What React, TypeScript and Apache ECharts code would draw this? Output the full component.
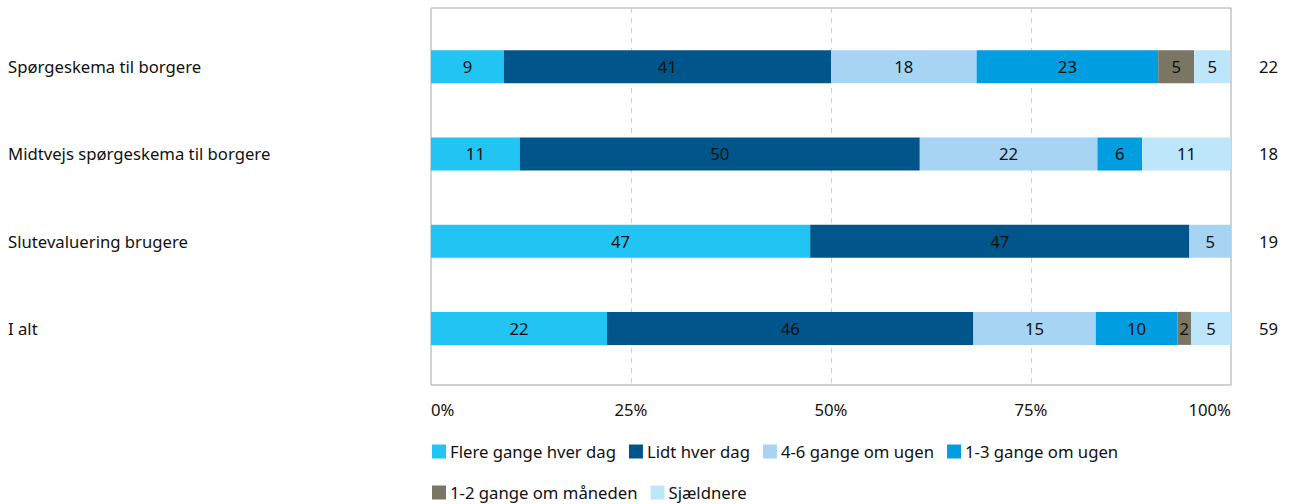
import React, { useEffect, useRef } from "react";
import * as echarts from "echarts";

const categories = [
  "Spørgeskema til borgere",
  "Midtvejs spørgeskema til borgere",
  "Slutevaluering brugere",
  "I alt",
];
const nLabels = ["22", "18", "19", "59"];
const seriesNames = [
  "Flere gange hver dag",
  "Lidt hver dag",
  "4-6 gange om ugen",
  "1-3 gange om ugen",
  "1-2 gange om måneden",
  "Sjældnere",
];
const colors = ["#21C4F3", "#00558A", "#A8D4F4", "#009EE0", "#7A7663", "#BEE6FA"];
// percentages per category, per series
const flere = [9.1, 11.1, 47.4, 22.0];
const lidt = [40.9, 50.0, 47.4, 45.8];
const g46 = [18.2, 22.2, 5.3, 15.3];
const g13 = [22.7, 5.6, 0, 10.2];
const g12 = [4.5, 0, 0, 1.7];
const sjaeldnere = [4.5, 11.1, 0, 5.1];
const seriesValues = [flere, lidt, g46, g13, g12, sjaeldnere];
const xTicks = ["0%", "25%", "50%", "75%", "100%"];

const FONT = "Noto Sans";

export default function App() {
  const ref = useRef<HTMLDivElement>(null);
  useEffect(() => {
    const chart = echarts.init(ref.current!, null, { renderer: "svg" });
    const textStyle = { fontFamily: FONT, fontSize: 16.7, color: "#111" };
    chart.setOption({
      animation: false,
      textStyle: { fontFamily: FONT },
      grid: [
        { left: 431, top: 8, width: 800, height: 377, show: true, borderColor: "#a6a6a6", borderWidth: 1, backgroundColor: "transparent" },
        { left: 431, top: 23, width: 800, height: 349 },
      ],
      xAxis: [
        {
          gridIndex: 0, type: "value", min: 0, max: 100, interval: 25,
          axisLine: { show: false }, axisTick: { show: false },
          splitLine: { show: true, lineStyle: { type: [5, 5], color: "#d0d0d0" } },
          axisLabel: {
            ...textStyle, margin: 16,
            alignMinLabel: "left", alignMaxLabel: "right",
            formatter: (v: number) => xTicks[Math.round(v / 25)],
          },
        },
        { gridIndex: 1, type: "value", min: 0, max: 100, show: false },
      ],
      yAxis: [
        { gridIndex: 0, type: "value", show: false },
        {
          gridIndex: 1, type: "category", data: categories, inverse: true,
          axisLine: { show: false }, axisTick: { show: false },
          axisLabel: { ...textStyle, align: "left", margin: 423 },
        },
        {
          gridIndex: 1, type: "category", data: nLabels, inverse: true, position: "right",
          axisLine: { show: false }, axisTick: { show: false },
          axisLabel: { ...textStyle, align: "left", margin: 28 },
        },
      ],
      legend: [
        {
          left: 427, top: 438, itemWidth: 14, itemHeight: 14, itemGap: 13,
          icon: "rect", textStyle: { ...textStyle, padding: [0, 0, 0, -1] },
          data: seriesNames.slice(0, 4),
        },
        {
          left: 427, top: 479, itemWidth: 14, itemHeight: 14, itemGap: 13,
          icon: "rect", textStyle: { ...textStyle, padding: [0, 0, 0, -1] },
          data: seriesNames.slice(4),
        },
      ],
      series: seriesNames.map((name, i) => ({
        name, type: "bar", stack: "total", xAxisIndex: 1, yAxisIndex: 1,
        barWidth: 33, color: colors[i],
        data: seriesValues[i].map((v) => (v === 0 ? null : v)),
        label: {
          show: true, position: "inside", ...textStyle,
          formatter: (p: any) => (p.value ? String(Math.round(p.value)) : ""),
        },
      })),
    });
    return () => chart.dispose();
  }, []);
  return <div ref={ref} style={{ width: 1289, height: 504, position: "absolute", left: 0, top: 0 }} />;
}
